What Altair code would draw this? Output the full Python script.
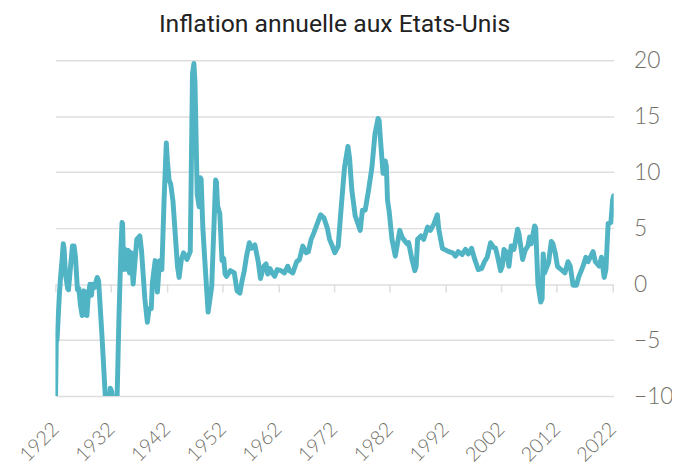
import altair as alt
import pandas as pd

years = [
    1922.0, 1922.15, 1922.3, 1922.7, 1922.95, 1923.2, 1923.4, 1923.55, 1923.8, 1924.2,
    1924.35, 1924.7, 1925.05, 1925.35, 1925.6, 1925.95, 1926.2, 1926.5, 1926.8, 1927.1,
    1927.35, 1927.65, 1927.9, 1928.2, 1928.45, 1928.7, 1929.0, 1929.5, 1929.75, 1930.4,
    1931.0, 1931.7, 1931.85, 1932.1, 1932.3, 1933.05, 1933.4, 1933.75, 1933.95, 1934.05,
    1934.25, 1934.55, 1934.9, 1935.1, 1935.3, 1935.6, 1935.95, 1936.6, 1937.15, 1937.45,
    1938.05, 1938.5, 1938.8, 1939.2, 1939.4, 1939.9, 1940.3, 1940.7, 1941.1, 1941.5,
    1941.9, 1942.1, 1942.4, 1942.7, 1943.1, 1943.5, 1943.9, 1944.2, 1944.6, 1945.0,
    1945.6, 1946.2, 1946.6, 1946.85, 1947.05, 1947.45, 1947.8, 1948.0, 1948.15, 1948.45,
    1948.8, 1949.4, 1949.6, 1950.05, 1950.4, 1950.75, 1950.9, 1951.1, 1951.5, 1951.9,
    1952.2, 1952.45, 1952.7, 1953.4, 1954.1, 1954.6, 1955.1, 1955.5, 1955.9, 1956.3,
    1956.8, 1957.2, 1957.8, 1958.4, 1958.8, 1959.4, 1959.8, 1960.1, 1960.5, 1960.9,
    1961.35, 1961.8, 1962.5, 1963.1, 1963.7, 1964.0, 1964.6, 1965.3, 1965.8, 1966.4,
    1967.0, 1967.4, 1967.9, 1968.4, 1969.0, 1969.6, 1970.2, 1970.8, 1971.2, 1971.7,
    1972.15, 1972.75, 1973.3, 1973.9, 1974.5, 1974.8, 1975.2, 1975.8, 1976.3, 1976.7,
    1977.1, 1977.6, 1978.2, 1978.8, 1979.35, 1979.9, 1980.1, 1980.4, 1980.8, 1981.2,
    1981.4, 1981.6, 1981.9, 1982.4, 1983.0, 1983.8, 1984.2, 1984.65, 1985.1, 1985.4,
    1985.95, 1986.5, 1986.75, 1987.0, 1987.6, 1988.1, 1988.8, 1989.3, 1989.95, 1990.55,
    1990.8, 1991.45, 1991.8, 1992.6, 1993.3, 1993.8, 1994.3, 1995.0, 1995.6, 1996.1,
    1996.7, 1997.2, 1997.9, 1998.5, 1999.0, 1999.5, 2000.1, 2000.6, 2001.0, 2001.3,
    2001.9, 2002.2, 2002.5, 2002.9, 2003.4, 2003.8, 2004.3, 2004.95, 2005.2, 2005.85,
    2006.3, 2006.8, 2007.1, 2007.4, 2008.0, 2008.2, 2008.6, 2009.1, 2009.35, 2009.55,
    2009.8, 2010.1, 2010.5, 2011.0, 2011.3, 2011.7, 2012.1, 2012.5, 2013.0, 2013.45,
    2014.0, 2014.4, 2014.9, 2015.5, 2015.9, 2016.7, 2017.2, 2017.6, 2018.5, 2018.9,
    2019.6, 2020.0, 2020.5, 2020.8, 2021.2, 2021.7, 2022.0, 2022.2,
]

inflation = [
    -11.0, -5.2, -4.9, -1.0, 0.8, 2.2, 3.6, 3.2, 0.9, -0.4,
    -0.5, 1.5, 3.4, 3.4, 2.4, -0.5, -0.4, -1.9, -2.8, -0.6,
    -0.7, -2.8, -1.0, 0.0, -1.0, 0.0, -0.3, 0.6, 0.3, -5.0,
    -10.5, -10.5, -9.3, -9.6, -10.5, -10.5, -3.0, 3.0, 5.5, 5.4,
    1.3, 3.1, 1.3, 3.0, 1.0, 2.8, 0.0, 4.0, 4.3, 3.0,
    -1.3, -3.4, -2.2, -2.2, 0.1, 2.1, -0.7, 2.1, 1.3, 7.5,
    12.6, 11.0, 9.3, 8.9, 7.4, 4.5, 1.6, 0.6, 2.2, 2.8,
    2.2, 2.9, 18.8, 19.7, 18.0, 8.0, 6.9, 9.5, 9.4, 5.1,
    2.2, -2.5, -1.8, -0.2, 4.5, 9.3, 9.1, 7.0, 6.3, 2.1,
    2.3, 0.9, 0.7, 1.2, 1.0, -0.6, -0.8, 0.3, 1.2, 2.5,
    3.7, 3.2, 3.5, 2.0, 0.5, 1.6, 1.8, 0.9, 1.4, 1.0,
    0.7, 1.3, 1.2, 1.0, 1.6, 1.2, 1.0, 2.0, 2.2, 3.4,
    2.8, 2.9, 4.0, 4.6, 5.4, 6.2, 5.9, 5.0, 4.0, 3.4,
    2.8, 3.4, 6.9, 10.5, 12.3, 11.2, 8.4, 6.1, 5.4, 4.8,
    6.6, 6.6, 8.4, 10.4, 13.4, 14.8, 14.6, 12.5, 9.9, 11.0,
    10.5, 7.5, 6.5, 4.0, 2.5, 4.8, 4.2, 3.9, 3.6, 3.7,
    2.3, 1.2, 1.6, 4.0, 4.3, 4.0, 5.1, 4.8, 5.4, 6.2,
    4.9, 3.2, 3.1, 2.9, 2.8, 2.5, 2.9, 2.65, 3.1, 2.7,
    3.2, 2.3, 1.3, 1.4, 2.0, 2.4, 3.7, 3.3, 3.2, 2.6,
    1.2, 1.6, 3.1, 2.9, 1.6, 3.4, 3.1, 4.9, 4.5, 2.2,
    3.0, 3.4, 4.2, 3.6, 5.2, 5.0, 0.0, -1.6, -1.3, 2.7,
    1.0, 1.4, 1.9, 3.8, 3.6, 2.8, 1.6, 1.4, 1.2, 1.0,
    2.0, 1.6, -0.1, -0.1, 0.6, 1.6, 2.4, 2.0, 2.9, 2.0,
    1.6, 2.4, 0.6, 1.3, 5.4, 5.5, 7.5, 7.9,
]

tick_years = [1922, 1932, 1942, 1952, 1962, 1972, 1982, 1992, 2002, 2012, 2022]
y_ticks = [-10, -5, 0, 5, 10, 15, 20]

df = pd.DataFrame({"annee": years, "inflation": inflation})

FONT = "Lato"
GRAY = "#707068"
GRID = "#dedede"

x_scale = alt.Scale(domain=[1922, 2022.2], nice=False, zero=False)
y_scale = alt.Scale(domain=[-10, 20], nice=False, zero=False)

line = alt.Chart(df).mark_line(
    color="#50b4c4", strokeWidth=5, strokeJoin="round", strokeCap="round", clip=True
).encode(
    x=alt.X("annee:Q", scale=x_scale, axis=alt.Axis(
        values=tick_years, orient="bottom", format="d", labelAngle=315, labelAlign="right",
        labelBaseline="middle", labelFontSize=20, labelColor=GRAY, labelFont=FONT,
        labelFontWeight=300, labelPadding=30, grid=False, ticks=False, domain=False,
        title=None, labelOverlap=False, labelFlush=False,
    )),
    y=alt.Y("inflation:Q", scale=y_scale, axis=alt.Axis(
        values=y_ticks, orient="right", grid=True, gridColor=GRID, gridWidth=1.5,
        domain=False, ticks=False, labelFontSize=23, labelColor=GRAY, labelFont=FONT,
        labelFontWeight=300, labelPadding=20, title=None, labelFlush=False,
    )),
)

tick_layer = alt.Chart(df).mark_line(opacity=0).encode(
    x=alt.X("annee:Q", scale=x_scale, axis=alt.Axis(
        values=tick_years, orient="bottom", offset=-113.33, labels=False,
        domain=False, ticks=True, tickSize=8, tickWidth=1.5, tickColor=GRID,
        grid=False, title=None,
    )),
    y=alt.Y("inflation:Q", scale=y_scale),
)

chart = alt.layer(line, tick_layer).resolve_axis(x="independent").properties(
    width=565,
    height=340,
    autosize=alt.AutoSizeParams(type="none"),
    padding={"left": 48, "top": 50, "right": 59, "bottom": 72},
    title=alt.TitleParams(
        "Inflation annuelle aux Etats-Unis", font="Roboto", fontSize=25,
        fontWeight="normal", color="#222222", anchor="middle", offset=13,
    ),
).configure_view(stroke=None)

chart.save("out.html", embed_options={"renderer": "svg", "actions": False})
